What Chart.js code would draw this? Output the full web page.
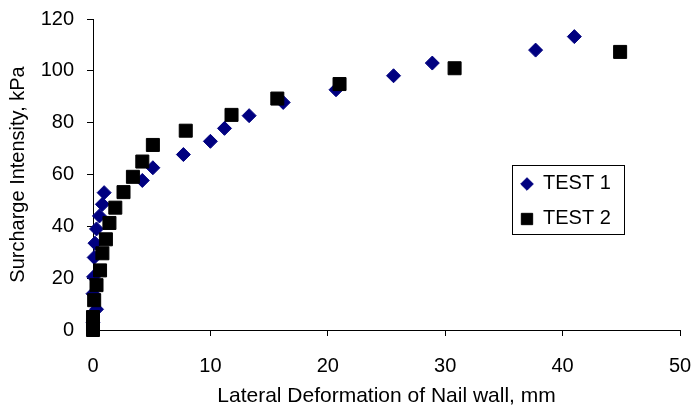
<!DOCTYPE html>
<html><head><meta charset="utf-8">
<script src="https://cdn.jsdelivr.net/npm/chart.js@4/dist/chart.umd.min.js"></script>
<style>html,body{margin:0;padding:0;background:#fff}#wrap{width:691px;height:410px}</style>
</head><body><div id="wrap"><canvas id="c" width="691" height="410"></canvas></div>
<script>
const seriesNames = ['TEST 1', 'TEST 2'];
const test1X = [0, 0, 0.3, 0, 0.05, 0.1, 0.17, 0.3, 0.55, 0.8, 0.95, 4.2, 5.1, 7.7, 10.0, 11.2, 13.3, 16.2, 20.7, 25.6, 28.9, 37.7, 41.0];
const test1Y = [0, 3, 8, 14, 20.5, 28, 33.5, 39, 44, 48.5, 53, 57.7, 62.6, 67.7, 72.8, 77.8, 82.7, 87.8, 92.7, 98.1, 103, 108, 113.2];
const test2X = [0, 0, 0, 0.1, 0.3, 0.6, 0.8, 1.1, 1.4, 1.9, 2.6, 3.4, 4.2, 5.1, 7.9, 11.8, 15.7, 21.0, 30.8, 44.9];
const test2Y = [0, 2, 5, 11.5, 17.3, 23, 29.6, 35, 41.3, 47.2, 53.2, 59.1, 65, 71.4, 76.9, 83, 89.3, 94.9, 101, 107.3];
const xTicks = [0, 10, 20, 30, 40, 50];
const yTicks = [0, 20, 40, 60, 80, 100, 120];
const xTitle = 'Lateral Deformation of Nail wall, mm';
const yTitle = 'Surcharge Intensity, kPa';

const toPts = (xs, ys) => xs.map((x, i) => ({x: x, y: ys[i]}));
const FONT = '"Liberation Sans", Arial, sans-serif';
Chart.defaults.font.family = FONT;
Chart.defaults.font.size = 20;
Chart.defaults.color = '#000';

const legendSizes = [6.3, 8];
const boxLegend = {
  id: 'boxLegend',
  afterDraw(chart) {
    const ctx = chart.ctx, ca = chart.chartArea;
    const left = ca.right - 168, top = ca.top + 146, w = 112, h = 69;
    ctx.save();
    ctx.fillStyle = '#fff';
    ctx.fillRect(left, top, w, h);
    ctx.strokeStyle = '#000';
    ctx.lineWidth = 1;
    ctx.strokeRect(left + 0.5, top + 0.5, w, h);
    seriesNames.forEach((name, r) => {
      const ds = chart.data.datasets.find(d => d.label === name);
      const cy = top + 19 + r * 35;
      ctx.fillStyle = ds.backgroundColor;
      ctx.strokeStyle = ds.borderColor;
      ctx.lineWidth = 1;
      Chart.helpers.drawPoint(ctx, {pointStyle: ds.pointStyle, radius: legendSizes[r], borderWidth: 1, rotation: 0}, left + 15, cy);
      ctx.fillStyle = '#000';
      ctx.font = '20px ' + FONT;
      ctx.textBaseline = 'middle';
      ctx.textAlign = 'left';
      ctx.fillText(name, left + 31, cy - 1);
    });
    ctx.restore();
  }
};

const axisCommon = {
  grid: {display: true, drawOnChartArea: false, drawTicks: true, tickLength: 6, tickColor: '#000', tickWidth: 1},
  border: {display: true, color: '#000', width: 1}
};

new Chart(document.getElementById('c'), {
  type: 'scatter',
  data: {
    datasets: [
      {label: seriesNames[0], data: toPts(test1X, test1Y), pointStyle: 'rectRot', pointRadius: 7, borderWidth: 1,
       backgroundColor: '#000080', borderColor: '#000080', order: 1, clip: false},
      {label: seriesNames[1], data: toPts(test2X, test2Y), pointStyle: 'rect', pointRadius: 9.2, borderWidth: 1,
       backgroundColor: '#000', borderColor: '#000', order: 0, clip: false}
    ]
  },
  options: {
    responsive: false,
    animation: false,
    devicePixelRatio: 1,
    layout: {padding: {top: 19, right: 11, left: 0, bottom: 0}},
    plugins: {legend: {display: false}, tooltip: {enabled: false}},
    scales: {
      x: Object.assign({}, axisCommon, {
        type: 'linear', min: 0, max: 50,
        afterBuildTicks: s => { s.ticks = xTicks.map(v => ({value: v})); },
        afterFit: s => { s.height = 80; s.paddingLeft = 0; s.paddingRight = 0; },
        ticks: {padding: 18, font: {size: 20}, color: '#000'},
        title: {display: true, text: xTitle, font: {size: 21}, color: '#000', padding: {top: 0, bottom: 1}}
      }),
      y: Object.assign({}, axisCommon, {
        type: 'linear', min: 0, max: 120,
        afterBuildTicks: s => { s.ticks = yTicks.map(v => ({value: v})); },
        afterFit: s => { s.width = 93; s.paddingTop = 0; s.paddingBottom = 0; },
        ticks: {padding: 13, font: {size: 20}, color: '#000'},
        title: {display: true, text: yTitle, font: {size: 20}, color: '#000', padding: {top: 6, bottom: 0}}
      })
    }
  },
  plugins: [boxLegend]
});
</script>
</body></html>
